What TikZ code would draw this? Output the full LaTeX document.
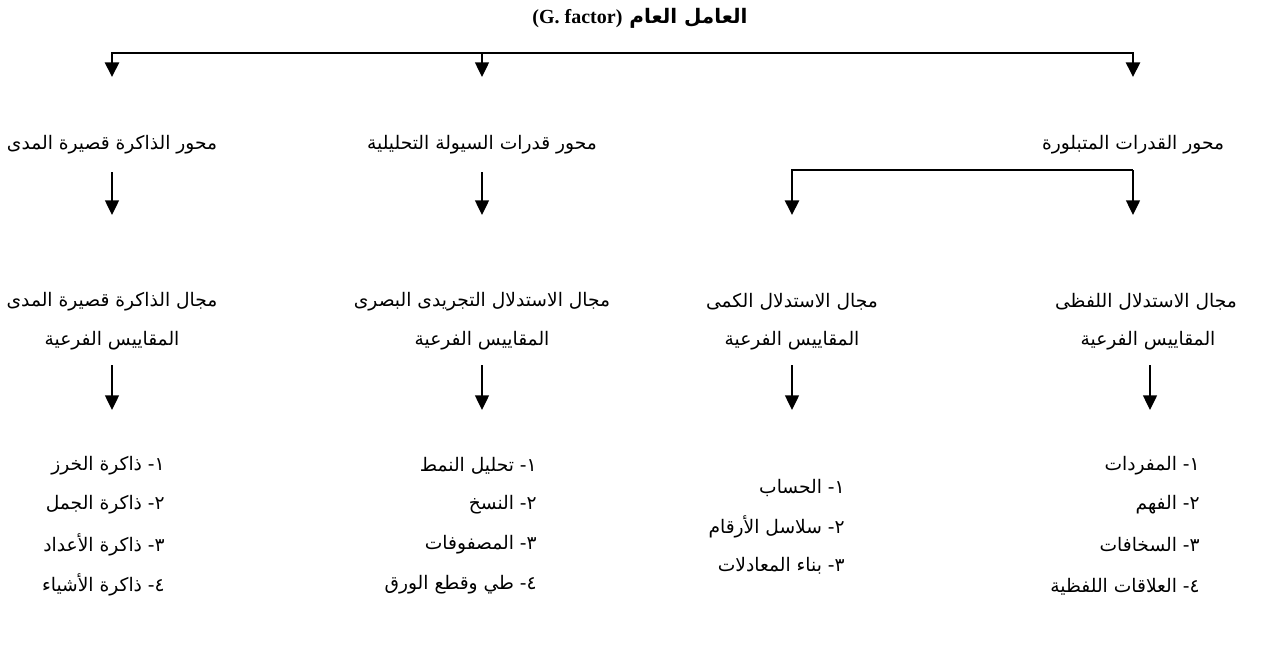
\documentclass[tikz,border=0pt]{standalone}
\usepackage{fontspec}
\usetikzlibrary{arrows.meta}
\TeXXeTstate=1
\newfontfamily\arabicfont[Script=Arabic]{DejaVu Sans}
\newfontfamily\latinfont{Liberation Serif}
\newcommand{\ar}[1]{{\arabicfont\beginR #1\endR}}
\tikzset{
  lbl/.style={inner sep=0pt, font=\fontsize{14}{16}\selectfont},
  itm/.style={inner sep=0pt, anchor=east, font=\fontsize{14}{16}\selectfont},
  bus/.style={line width=2pt},
  arr/.style={line width=1pt, -{Triangle[width=10.5pt,length=11pt]}},
  busarr/.style={line width=2pt, -{Triangle[width=10.5pt,length=11pt]}}
}
\begin{document}
\begin{tikzpicture}[x=0.75pt,y=-0.75pt]
\useasboundingbox (0,0) rectangle (1267,664);
% title
\node[lbl, font=\fontsize{15}{17}\selectfont\bfseries] (g) at (640,18)
  {\arabicfont\beginR العامل العام {\latinfont\beginL(G. factor)\endL}\endR};
% level 1 bus
\coordinate (bL) at (112,53);
\coordinate (bM) at (482,53);
\coordinate (bR) at (1133,53);
\coordinate (tL) at (112,77);
\coordinate (tM) at (482,77);
\coordinate (tR) at (1133,77);
\draw[busarr] (bL) -- (bR) -- (tR);
\draw[busarr] (bR) -- (bL) -- (tL);
\draw[arr] (bM) -- (tM);
% axes
\node[lbl] (ax1) at (112,145) {\ar{محور الذاكرة قصيرة المدى}};
\node[lbl] (ax2) at (482,145) {\ar{محور قدرات السيولة التحليلية}};
\node[lbl] (ax3) at (1133,145) {\ar{محور القدرات المتبلورة}};
% arrows below axes
\coordinate (s1) at (112,172);
\coordinate (e1) at (112,215);
\coordinate (s2) at (482,172);
\coordinate (e2) at (482,215);
\draw[arr] (s1) -- (e1);
\draw[arr] (s2) -- (e2);
\coordinate (c3) at (792,170);
\coordinate (c4) at (1133,170);
\coordinate (e3) at (792,215);
\coordinate (e4) at (1133,215);
\draw[busarr] (c4) -- (c3) -- (e3);
\draw[arr] (c4) -- (e4);
% domains
\node[lbl] (d1) at (112,302) {\ar{مجال الذاكرة قصيرة المدى}};
\node[lbl] (d2) at (482,302) {\ar{مجال الاستدلال التجريدى البصرى}};
\node[lbl] (d3) at (792,302) {\ar{مجال الاستدلال الكمى}};
\node[lbl] (d4) at (1146,302) {\ar{مجال الاستدلال اللفظى}};
\node[lbl] (m1) at (112,341) {\ar{المقاييس الفرعية}};
\node[lbl] (m2) at (482,341) {\ar{المقاييس الفرعية}};
\node[lbl] (m3) at (792,341) {\ar{المقاييس الفرعية}};
\node[lbl] (m4) at (1148,341) {\ar{المقاييس الفرعية}};
\coordinate (f1) at (112,410);
\coordinate (f2) at (482,410);
\coordinate (f3) at (792,410);
\coordinate (f4) at (1150,410);
\draw[arr] (112,365) -- (f1);
\draw[arr] (482,365) -- (f2);
\draw[arr] (792,365) -- (f3);
\draw[arr] (1150,365) -- (f4);
% items column 1
\node[itm] (i11) at (165,466) {\ar{١- ذاكرة الخرز}};
\node[itm] (i12) at (165,505) {\ar{٢- ذاكرة الجمل}};
\node[itm] (i13) at (165,545) {\ar{٣- ذاكرة الأعداد}};
\node[itm] (i14) at (165,585) {\ar{٤- ذاكرة الأشياء}};
% column 2
\node[itm] (i21) at (537,466) {\ar{١- تحليل النمط}};
\node[itm] (i22) at (537,505) {\ar{٢- النسخ}};
\node[itm] (i23) at (537,545) {\ar{٣- المصفوفات}};
\node[itm] (i24) at (537,585) {\ar{٤- طي وقطع الورق}};
% column 3
\node[itm] (i31) at (845,488) {\ar{١- الحساب}};
\node[itm] (i32) at (845,527) {\ar{٢- سلاسل الأرقام}};
\node[itm] (i33) at (845,566) {\ar{٣- بناء المعادلات}};
% column 4
\node[itm] (i41) at (1200,466) {\ar{١- المفردات}};
\node[itm] (i42) at (1200,505) {\ar{٢- الفهم}};
\node[itm] (i43) at (1200,545) {\ar{٣- السخافات}};
\node[itm] (i44) at (1200,587) {\ar{٤- العلاقات اللفظية}};
\end{tikzpicture}
\end{document}
